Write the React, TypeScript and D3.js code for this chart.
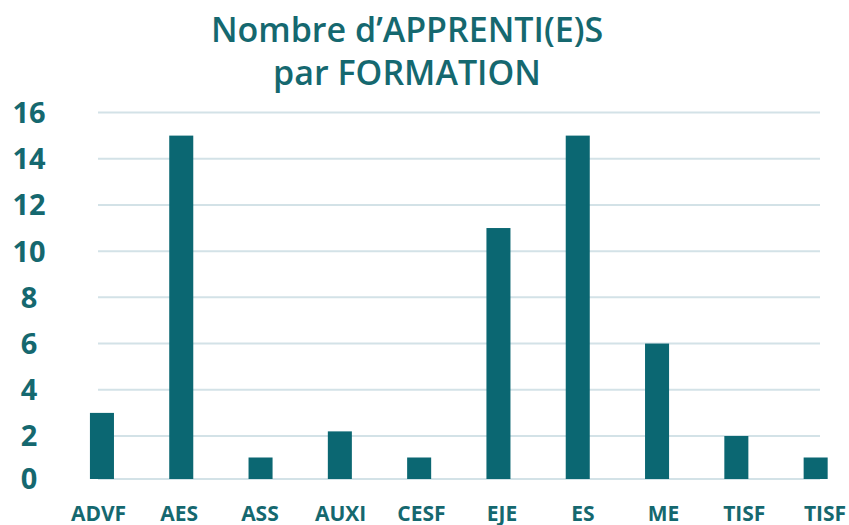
import { useMemo } from "react";
import * as d3 from "d3";

const width = 849;
const height = 525;

const formations = ["ADVF", "AES", "ASS", "AUXI", "CESF", "EJE", "ES", "ME", "TISF", "TISF "];
const apprentis = [3, 15, 1, 2.2, 1, 11, 15, 6, 2, 1];
const yTicks = [0, 2, 4, 6, 8, 10, 12, 14, 16];
const titleLines = ["Nombre d\u2019APPRENTI(E)S", "par FORMATION"];

const teal = "#0b6772";
const textColor = "#15686f";
const gridColor = "#d3e2e7";
const font = "'Open Sans', Lato, sans-serif";

export default function App() {
  const xScale = useMemo(
    () => d3.scaleBand().domain(formations).range([62.3, 855.3]).paddingInner(0.697).paddingOuter(0.3485),
    []
  );
  // category labels are spread a little wider than the bars
  const labelScale = useMemo(() => d3.scalePoint().domain(formations).range([98.5, 825]), []);
  // zero line sits a bit lower than the even spacing of the others in the original
  const yScale = useMemo(
    () => d3.scaleLinear().domain([0, 2, 16]).range([479, 436, 112.5]),
    []
  );

  return (
    <svg width={width} height={height} style={{ position: "absolute", left: 0, top: 0, background: "#fff" }}>
      {titleLines.map((t, i) => (
        <text
          key={t}
          x={407}
          y={42 + i * 43}
          textAnchor="middle"
          fontFamily={font}
          fontWeight={600}
          fontSize={34}
          fill={textColor}
        >
          {t}
        </text>
      ))}

      <g>
        {yTicks.map((t) => (
          <g key={t}>
            <line x1={98} x2={820} y1={yScale(t)} y2={yScale(t)} stroke={gridColor} strokeWidth={2} />
            <text
              x={29}
              y={yScale(t)}
              dy="0.36em"
              textAnchor="middle"
              fontFamily={font}
              fontWeight={700}
              fontSize={29}
              fill={textColor}
            >
              {t}
            </text>
          </g>
        ))}
      </g>

      <g>
        {formations.map((f, i) => (
          <rect
            key={f}
            x={xScale(f)}
            y={yScale(apprentis[i])}
            width={xScale.bandwidth()}
            height={yScale(0) - yScale(apprentis[i])}
            fill={teal}
          />
        ))}
      </g>

      <g>
        {formations.map((f) => (
          <text
            key={f}
            x={labelScale(f)}
            y={521}
            textAnchor="middle"
            fontFamily={font}
            fontWeight={700}
            fontSize={21}
            fill={textColor}
          >
            {f.trim()}
          </text>
        ))}
      </g>
    </svg>
  );
}
